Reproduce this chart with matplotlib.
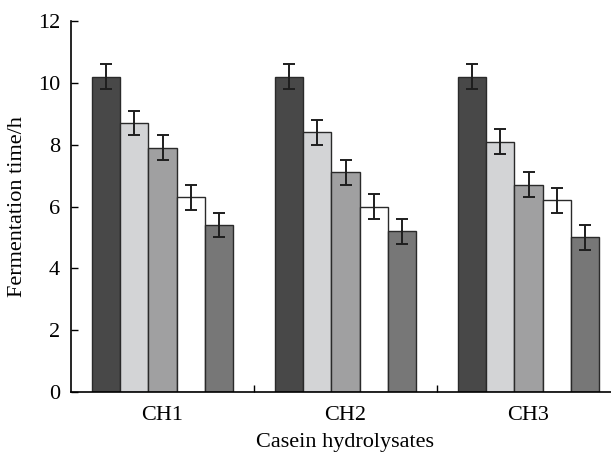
import numpy as np
from matplotlib import pyplot as plt

plt.rcParams['font.family'] = ['Liberation Serif', 'DejaVu Serif']

groups = ['CH1', 'CH2', 'CH3']
values = [
    [10.2, 10.2, 10.2],
    [8.7, 8.4, 8.1],
    [7.9, 7.1, 6.7],
    [6.3, 6.0, 6.2],
    [5.4, 5.2, 5.0],
]
errors = [
    [0.4, 0.4, 0.4],
    [0.4, 0.4, 0.4],
    [0.4, 0.4, 0.4],
    [0.4, 0.4, 0.4],
    [0.4, 0.4, 0.4],
]
colors = ['#484848', '#d3d4d6', '#a0a0a1', '#ffffff', '#777777']

fig = plt.figure(figsize=(6.11, 4.54), dpi=100)
ax = fig.add_axes([71/611, 62/454, 549/611, 371/454])

x = np.arange(len(groups))
w = 0.154
for i in range(5):
    ax.bar(x + (i - 2) * w, values[i], w, color=colors[i], edgecolor='#2a2a2a', linewidth=1.0,
           yerr=errors[i], capsize=4.5, error_kw=dict(elinewidth=1.4, capthick=1.4, ecolor='#1e1e1e'))

ax.set_xlim(-0.5, 2.5)
ax.set_ylim(0, 12)
ax.set_yticks([0, 2, 4, 6, 8, 10, 12])
ax.set_xticks(x)
ax.set_xticklabels(groups)
ax.xaxis.set_tick_params(length=0, pad=10)
ax.set_xticks([0.5, 1.5], minor=True)
ax.tick_params(axis='x', which='minor', direction='in', length=5, width=1)
ax.tick_params(axis='y', direction='in', length=5, width=1, pad=8)
ax.tick_params(labelsize=16)
ax.spines['top'].set_visible(False)
ax.spines['right'].set_visible(False)
ax.spines['left'].set_linewidth(1.2)
ax.spines['bottom'].set_linewidth(1.2)
ax.set_xlabel('Casein hydrolysates', fontsize=16, labelpad=6)
ax.set_ylabel('Fermentation time/h', fontsize=16, labelpad=8)

plt.savefig('out.png', dpi=100)
